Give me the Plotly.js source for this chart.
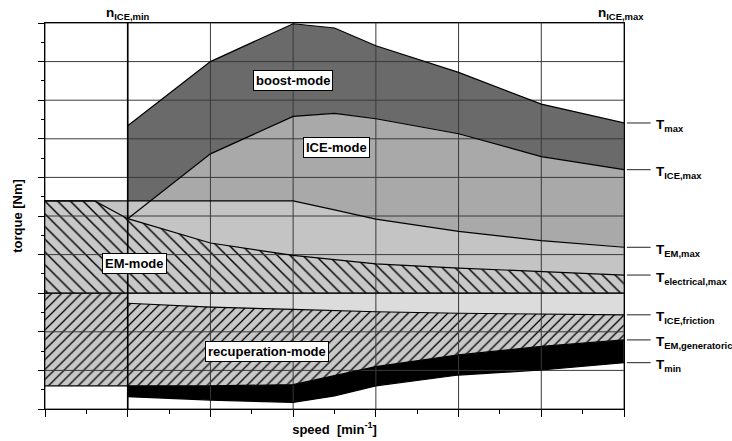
<!DOCTYPE html>
<html>
<head>
<meta charset="utf-8">
<script src="https://cdn.plot.ly/plotly-3.0.1.min.js"></script>
<style>html,body{margin:0;padding:0;background:#fff;}#chart{width:732px;height:441px;}</style>
</head>
<body>
<div id="chart"></div>
<script>
// ---- data (arbitrary units: speed 0..7, torque 0..10) ----
const speedTmax = [1, 2, 3, 3.5, 4, 5, 6, 7];
const Tmax      = [7.34, 9.0, 9.98, 9.87, 9.41, 8.72, 7.9, 7.41];
const speedIce  = [1, 2, 3, 3.5, 4, 5, 6, 7];
const TiceMax   = [4.93, 6.61, 7.58, 7.66, 7.52, 7.13, 6.54, 6.2];
const speedEm   = [0, 1, 3, 3.5, 4, 5, 6, 7];
const TemMax    = [5.39, 5.39, 5.39, 5.16, 4.92, 4.6, 4.36, 4.19];
const speedElec = [0, 0.6, 1, 2, 3, 4, 5, 6, 7];
const TelecMax  = [5.39, 5.39, 4.93, 4.3, 3.98, 3.76, 3.65, 3.56, 3.47];
const speedZero = [0, 7];
const Tzero     = [3, 3];
const speedFric = [1, 2, 3, 4, 5, 6, 7];
const TiceFric  = [2.74, 2.64, 2.58, 2.52, 2.48, 2.46, 2.44];
const speedGen  = [1, 2, 3, 3.5, 4, 5, 6, 7];
const TemGen    = [0.6, 0.6, 0.63, 0.86, 1.1, 1.4, 1.62, 1.79];
const speedMin  = [1, 2, 3, 3.5, 4, 5, 6, 7];
const Tmin      = [0.32, 0.23, 0.17, 0.34, 0.6, 0.88, 1.01, 1.2];
const speedLow  = [0, 1];
const TrecupLow = [0.6, 0.6];
const nIceMin   = 1;
const nIceMax   = 7;
const gridX = [0, 1, 2, 3, 4, 5, 6, 7];
const gridY = [0, 1, 2, 3, 4, 5, 6, 7, 8, 9, 10];
const minorX = [0.5, 1.5, 2.5, 3.5, 4.5, 5.5, 6.5];
const minorY = [0.5, 1.5, 2.5, 3.5, 4.5, 5.5, 6.5, 7.5, 8.5, 9.5];
const modeLabels = [
  {text: 'boost-mode', x: 3.0, y: 8.52},
  {text: 'ICE-mode', x: 3.52, y: 6.78},
  {text: 'EM-mode', x: 1.08, y: 3.78},
  {text: 'recuperation-mode', x: 2.68, y: 1.49}
];
const curveLabels = ['T<sub>max</sub>', 'T<sub>ICE,max</sub>', 'T<sub>EM,max</sub>',
  'T<sub>electrical,max</sub>', 'T<sub>ICE,friction</sub>', 'T<sub>EM,generatoric</sub>', 'T<sub>min</sub>'];
const curveEnds = [Tmax, TiceMax, TemMax, TelecMax, TiceFric, TemGen, Tmin];

// ---- helpers ----
const rev = a => a.slice().reverse();
const last = a => a[a.length - 1];
const FONT = 'Liberation Sans, Arial, Helvetica, sans-serif';

function poly(x, y, color, pattern) {
  const t = {x: x, y: y, type: 'scatter', mode: 'lines', fill: 'toself',
    fillcolor: color, line: {width: 0, color: color}, hoverinfo: 'skip', showlegend: false};
  if (pattern) t.fillpattern = pattern;
  return t;
}
function curve(x, y, w, c) {
  return {x: x, y: y, type: 'scatter', mode: 'lines', line: {width: w || 1.2, color: c || '#000'},
    hoverinfo: 'skip', showlegend: false};
}

const traces = [];
// ICE-mode area
traces.push(poly(speedIce.concat(rev(speedEm.slice(1))), TiceMax.concat(rev(TemMax.slice(1))), '#a9a9a9'));
// boost-mode area
traces.push(poly(speedTmax.concat(rev(speedIce)), Tmax.concat(rev(TiceMax)), '#6a6a6a'));
// between electrical max and EM max
traces.push(poly(speedElec.concat(rev(speedEm)), TelecMax.concat(rev(TemMax)), '#c4c4c4'));
// EM-mode hatched
traces.push(poly(speedElec.concat(rev(speedZero)), TelecMax.concat(rev(Tzero)), '#c8c8c8',
  {shape: '\\', bgcolor: '#c8c8c8', fgcolor: '#000', size: 9, solidity: 0.16}));
// light strip between zero and ICE friction
traces.push(poly(speedFric.concat([last(speedFric), speedFric[0]]), TiceFric.concat([Tzero[1], Tzero[0]]), '#dcdcdc'));
// recuperation hatched
traces.push(poly([speedZero[0], speedFric[0]].concat(speedFric, rev(speedGen), [speedLow[0]]),
  [Tzero[0], Tzero[0]].concat(TiceFric, rev(TemGen), [TrecupLow[0]]), '#c8c8c8',
  {shape: '/', bgcolor: '#c8c8c8', fgcolor: '#000', size: 7, solidity: 0.18}));
// black band T_min .. T_EM,generatoric
traces.push(poly(speedGen.concat(rev(speedMin)), TemGen.concat(rev(Tmin)), '#000'));

// grid on top of fills
const gx = [], gy = [];
gridX.forEach(v => { gx.push(v, v, null); gy.push(gridY[0], last(gridY), null); });
gridY.forEach(v => { gx.push(gridX[0], last(gridX), null); gy.push(v, v, null); });
traces.push({x: gx, y: gy, type: 'scatter', mode: 'lines', line: {width: 1, color: '#3a3a3a'},
  hoverinfo: 'skip', showlegend: false, connectgaps: false});

// boundary curves
traces.push(curve(speedTmax, Tmax));
traces.push(curve(speedIce, TiceMax));
traces.push(curve(speedEm, TemMax));
traces.push(curve(speedElec, TelecMax));
traces.push(curve(speedZero, Tzero));
traces.push(curve(speedFric, TiceFric));
traces.push(curve(speedGen, TemGen));
traces.push(curve(speedMin, Tmin));
traces.push(curve(speedLow, TrecupLow));
traces.push(curve([nIceMin, nIceMin], [gridY[0], last(gridY)], 1.6));

const annotations = [];
modeLabels.forEach(m => annotations.push({
  x: m.x, y: m.y, xref: 'x', yref: 'y', text: m.text, showarrow: false,
  font: {family: FONT, size: 13, color: '#000', weight: 700},
  bgcolor: '#fff', bordercolor: '#000', borderwidth: 1, borderpad: 2
}));
annotations.push({x: nIceMin, y: 1, xref: 'x', yref: 'paper', yanchor: 'bottom', text: 'n<sub>ICE,min</sub>',
  showarrow: false, font: {family: FONT, size: 13.5, color: '#000', weight: 700}, yshift: -1});
annotations.push({x: nIceMax, y: 1, xref: 'x', yref: 'paper', yanchor: 'bottom', text: 'n<sub>ICE,max</sub>',
  showarrow: false, font: {family: FONT, size: 13.5, color: '#000', weight: 700}, yshift: -1, xshift: -3});
const shapes = [];
curveLabels.forEach((t, i) => {
  const yv = last(curveEnds[i]);
  shapes.push({type: 'line', xref: 'paper', yref: 'y', x0: 1.005, x1: 1.046, y0: yv, y1: yv,
    line: {color: '#222', width: 1}});
  annotations.push({x: 1.052, y: yv, xref: 'paper', yref: 'y', xanchor: 'left', yanchor: 'middle',
    text: t, showarrow: false, yshift: -3, font: {family: FONT, size: 13.5, color: '#000', weight: 700}});
});

const layout = {
  width: 732, height: 441,
  margin: {l: 45, r: 108, t: 23, b: 32, pad: 0},
  paper_bgcolor: '#fff', plot_bgcolor: '#fff',
  showlegend: false,
  font: {family: FONT, color: '#000'},
  xaxis: {range: [gridX[0], last(gridX)], showgrid: false, zeroline: false, showticklabels: false,
    tickmode: 'array', tickvals: gridX, ticks: 'outside', ticklen: 7, tickcolor: '#000', tickwidth: 1,
    minor: {tickmode: 'array', tickvals: minorX, ticks: 'outside', ticklen: 3.5, tickcolor: '#000', showgrid: false},
    showline: true, mirror: true, linecolor: '#000', linewidth: 1, fixedrange: true,
    title: {text: 'speed  [min<sup>-1</sup>]', font: {family: FONT, size: 13, color: '#000', weight: 700}, standoff: 8}},
  yaxis: {range: [gridY[0], last(gridY)], showgrid: false, zeroline: false, showticklabels: false,
    tickmode: 'array', tickvals: gridY, ticks: 'outside', ticklen: 6, tickcolor: '#000', tickwidth: 1,
    minor: {tickmode: 'array', tickvals: minorY, ticks: 'outside', ticklen: 3.5, tickcolor: '#000', showgrid: false},
    showline: true, mirror: true, linecolor: '#000', linewidth: 1, fixedrange: true,
    title: {text: 'torque [Nm]', font: {family: FONT, size: 13, color: '#000', weight: 700}, standoff: 12}},
  annotations: annotations,
  shapes: shapes
};
Plotly.newPlot('chart', traces, layout, {staticPlot: true, displayModeBar: false});
</script>
</body>
</html>
